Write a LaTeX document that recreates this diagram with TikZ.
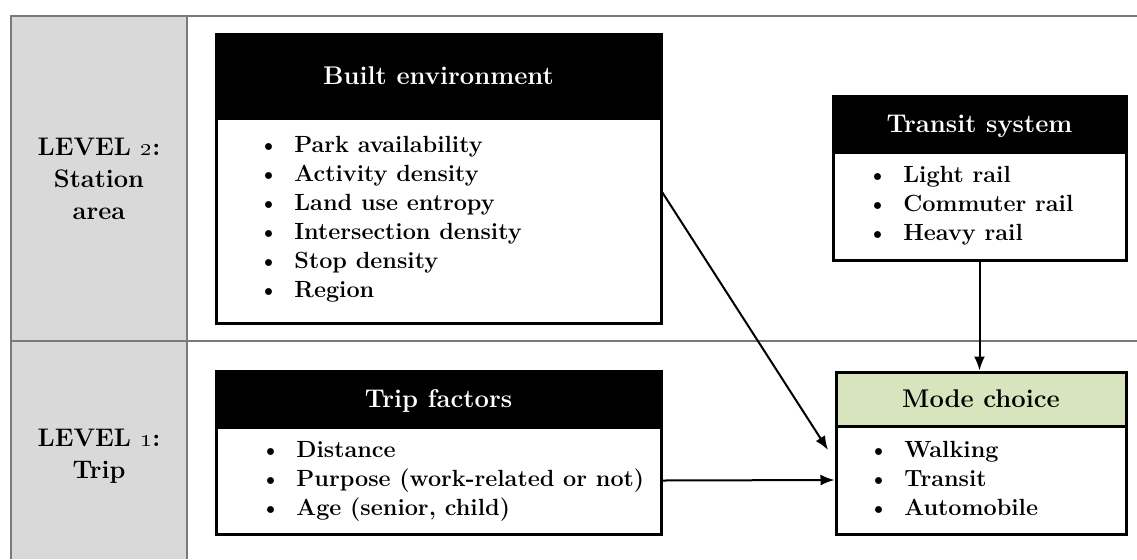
\documentclass[tikz,border=0pt]{standalone}
\usetikzlibrary{arrows.meta,calc}
\definecolor{labgray}{HTML}{D9D9D9}
\definecolor{modegreen}{HTML}{D7E4BD}
\definecolor{framegray}{HTML}{7A7A7A}
\tikzset{
  box/.style={draw=black, line width=1.5pt, rectangle, inner sep=0pt},
  hdr/.style={box, fill=black, text=white, font=\fontsize{12.8}{15}\bfseries, text height=8.7pt, text depth=0pt},
  greenhdr/.style={box, fill=modegreen, text=black, font=\fontsize{12.8}{15}\bfseries, text height=8.7pt, text depth=0pt},
  bodybox/.style={box, fill=white},
  lst/.style={inner sep=0pt, anchor=base west, font=\fontsize{11.7}{14.5}\bfseries},
  levlab/.style={inner sep=0pt, anchor=base, font=\fontsize{12.7}{16}\bfseries},
  frameline/.style={draw=framegray, line width=0.6pt},
  arr/.style={line width=1pt, -{Latex[length=7pt,width=5.5pt]}}
}
\newcommand{\blt}{\textbullet}
\begin{document}
\begin{tikzpicture}[x=0.5pt,y=-0.5pt]
\useasboundingbox (0,0) rectangle (1137,559);
% frame
\fill[labgray] (11,16) rectangle (187,559);
\draw[frameline] (1137,16) -- (11,16) -- (11,559);
\draw[frameline] (187,16) -- (187,559);
\draw[frameline] (11,341) -- (1137,341);
% level labels
\node[levlab] (lev2) at (99,155) {\begin{tabular}[t]{@{}c@{}}LEVEL \oldstylenums{2}:\\Station\\area\end{tabular}};
\node[levlab] (lev1) at (99,446) {\begin{tabular}[t]{@{}c@{}}LEVEL \oldstylenums{1}:\\Trip\end{tabular}};
% built environment
\node[hdr, minimum width=222.5pt, minimum height=42pt] (behead) at (438.5,76) {Built environment};
\node[bodybox, minimum width=222.5pt, minimum height=102.5pt] (bebody) at (438.5,220.5) {};
\node[lst] (belist) at (258,152) {\begin{tabular}[t]{@{}p{18pt}@{}l@{}}
\blt & Park availability\\
\blt & Activity density\\
\blt & Land use entropy\\
\blt & Intersection density\\
\blt & Stop density\\
\blt & Region\end{tabular}};
% transit system
\node[hdr, minimum width=146.5pt, minimum height=28pt] (tshead) at (979.5,124) {Transit system};
\node[bodybox, minimum width=146.5pt, minimum height=54pt] (tsbody) at (979.5,206) {};
\node[lst] (tslist) at (867,182) {\begin{tabular}[t]{@{}p{18pt}@{}l@{}}
\blt & Light rail\\
\blt & Commuter rail\\
\blt & Heavy rail\end{tabular}};
% trip factors
\node[hdr, minimum width=222.5pt, minimum height=28pt] (trhead) at (438.5,399) {Trip factors};
\node[bodybox, minimum width=222.5pt, minimum height=53.5pt] (trbody) at (438.5,480.5) {};
\node[lst] (trlist) at (260,457) {\begin{tabular}[t]{@{}p{18pt}@{}l@{}}
\blt & Distance\\
\blt & Purpose (work-related or not)\\
\blt & Age (senior, child)\end{tabular}};
% mode choice
\node[greenhdr, minimum width=145pt, minimum height=27pt] (mchead) at (981,399) {Mode choice};
\node[bodybox, minimum width=145pt, minimum height=54pt] (mcbody) at (981,480) {};
\node[lst] (mclist) at (868,457) {\begin{tabular}[t]{@{}p{18pt}@{}l@{}}
\blt & Walking\\
\blt & Transit\\
\blt & Automobile\end{tabular}};
% connectors
\coordinate (bestart) at ($(bebody.north east)!0.366!(bebody.south east)$);
\coordinate (diagend) at (828,450);
\draw[arr] (bestart) -- (diagend);
\draw[arr] (tsbody.south) -- (tsbody.south |- mchead.north);
\draw[arr] (trbody.east) -- (mcbody.west);
\end{tikzpicture}
\end{document}
